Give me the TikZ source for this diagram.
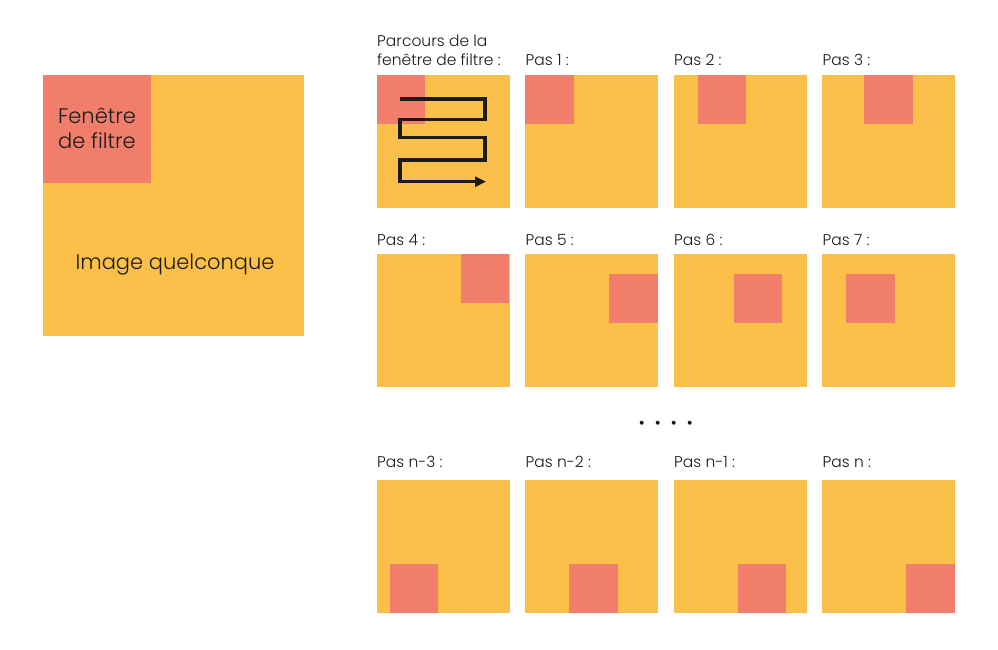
\documentclass[tikz,border=0pt]{standalone}
\usepackage{fontspec}
\setmainfont{Poppins}[UprightFont=* Light]
\usetikzlibrary{arrows.meta}
\definecolor{jaune}{HTML}{FBC04A}
\definecolor{rouge}{HTML}{F07E6A}
\definecolor{encre}{HTML}{1A1A1A}
\tikzset{
  etiquette/.style={anchor=base west, inner sep=0pt, text=encre, font=\fontsize{15.5}{19}\selectfont},
  titre/.style={inner sep=0pt, text=encre, align=center},
}

\begin{document}
\begin{tikzpicture}[x=1pt,y=-1pt]
\useasboundingbox (0,0) rectangle (998,649);
\fill[jaune] (43,75) rectangle (304,336);
\fill[rouge] (43,75) rectangle (151,183);
\node[titre, font=\fontsize{21}{25}\selectfont] (fenetre) at (97,128) {Fenêtre\\de filtre};
\node[titre, font=\fontsize{21}{25}\selectfont] (image) at (175,265) {Image quelconque};
\foreach \x/\y/\dx/\dy/\ly/\nom/\texte in {
  376.5/75/0/0/65/vide/{},
  525/75/0/0/65/pas1/Pas 1 :,
  673.5/75/24.3/0/65/pas2/Pas 2 :,
  822/75/42.4/0/65/pas3/Pas 3 :,
  376.5/254.3/84.3/0/245/pas4/Pas 4 :,
  525/254.3/84.3/20/245/pas5/Pas 5 :,
  673.5/254.3/60.3/20/245/pas6/Pas 6 :,
  822/254.3/24/20/245/pas7/Pas 7 :,
  376.5/480/13.3/84.3/467/pasn3/Pas n-3 :,
  525/480/44.3/84.3/467/pasn2/Pas n-2 :,
  673.5/480/64.3/84.3/467/pasn1/Pas n-1 :,
  822/480/84.3/84.3/467/pasn/Pas n :}{
  \fill[jaune] (\x,\y) rectangle ++(133,133);
  \fill[rouge] (\x+\dx,\y+\dy) rectangle ++(48.5,48.5);
  \node[etiquette] (\nom) at (\x+0.5,\ly) {\texte};
}
\node[etiquette, align=left] (parcours) at (377,65) {Parcours de la\\fenêtre de filtre :};
\draw[encre, line width=3.2pt, -{Triangle[length=11pt,width=10pt]}]
  (400,99) -- (485,99) -- (485,119.3) -- (400,119.3) -- (400,137.3)
  -- (485,137.3) -- (485,160) -- (400,160) -- (400,181.7) -- (486,181.7);
\foreach \px in {641.7,657.7,673.7,689.7}
  \fill[encre] (\px,422.7) circle (2pt);
\end{tikzpicture}
\end{document}
